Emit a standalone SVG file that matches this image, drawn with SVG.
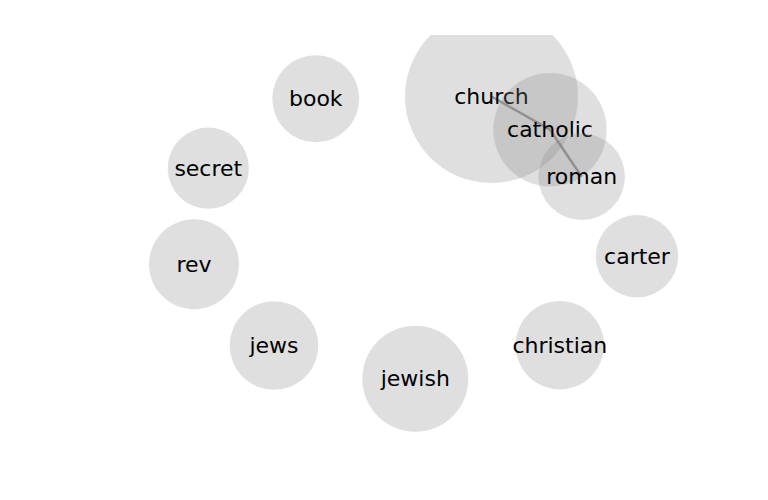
<svg xmlns="http://www.w3.org/2000/svg" width="768" height="500" viewBox="0 0 768 500">
<style>
.node circle{fill:#888;fill-opacity:0.27;stroke:none}
.node text{font-family:"DejaVu Sans",sans-serif;font-size:22px;fill:#000;text-anchor:middle}
.link{stroke:#888;stroke-width:2.5;stroke-opacity:0.85;fill:none}
</style>
<defs>
<clipPath id="clip"><rect x="0" y="35" width="768" height="465"/></clipPath>
</defs>
<rect width="768" height="500" fill="#fff"/>
<g id="connectors">
<line class="link" x1="491.5" y1="96.5" x2="550" y2="129.7"/>
<line class="link" x1="550" y1="129.7" x2="581.7" y2="176.7"/>
</g>
<g id="church" class="node"><circle cx="491.5" cy="96.5" r="86.5" clip-path="url(#clip)"/><text x="491.5" y="104">church</text></g>
<g id="catholic" class="node"><circle cx="550" cy="129.7" r="56.7"/><text x="550" y="137.2">catholic</text></g>
<g id="roman" class="node"><circle cx="581.7" cy="176.7" r="43.3"/><text x="581.7" y="184.2">roman</text></g>
<g id="book" class="node"><circle cx="315.8" cy="98.7" r="43.5"/><text x="315.8" y="106.2">book</text></g>
<g id="secret" class="node"><circle cx="208.3" cy="168.2" r="40.6"/><text x="208.3" y="175.7">secret</text></g>
<g id="rev" class="node"><circle cx="194" cy="264.3" r="45"/><text x="194" y="271.8">rev</text></g>
<g id="carter" class="node"><circle cx="637" cy="256.2" r="41.2"/><text x="637" y="263.7">carter</text></g>
<g id="christian" class="node"><circle cx="559.8" cy="345.2" r="44.2"/><text x="559.8" y="352.7">christian</text></g>
<g id="jews" class="node"><circle cx="274" cy="345.5" r="44.3"/><text x="274" y="353">jews</text></g>
<g id="jewish" class="node"><circle cx="415.3" cy="378.7" r="53"/><text x="415.3" y="386.2">jewish</text></g>
</svg>
